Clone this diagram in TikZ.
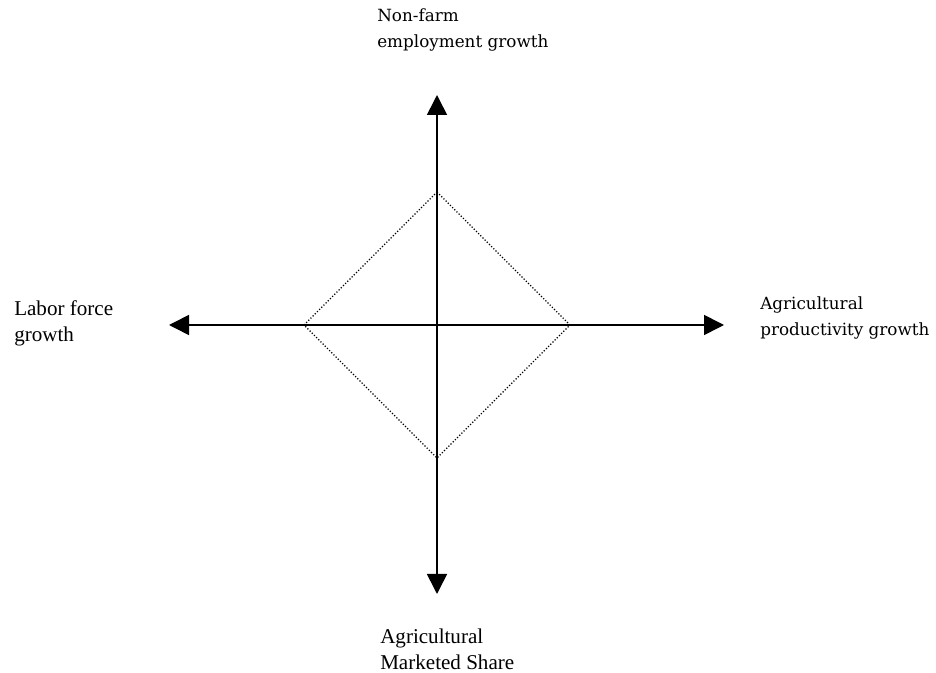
\documentclass[tikz,border=0pt]{standalone}
\usepackage{fontspec}
\setmainfont{Liberation Serif}
\newfontfamily\slabfont{DejaVu Serif}
\usetikzlibrary{arrows.meta}

\begin{document}
\begin{tikzpicture}[x=0.75pt, y=-0.75pt,
    axis/.style={-{Triangle[length=15pt,width=15pt]}, line width=1.2pt},
    diam/.style={dash pattern=on 0.9pt off 1.4pt, line width=0.9pt},
    lbl/.style={anchor=base west, align=left, inner sep=0pt},
    slab/.style={lbl, font=\slabfont\fontsize{12.6pt}{19.5pt}\selectfont},
    roman/.style={lbl, font=\fontsize{15.8pt}{19.5pt}\selectfont}]
            \useasboundingbox (0,0) rectangle (936,673);
            \coordinate (O)      at (437,325);
            \coordinate (Up)     at (437,95);
            \coordinate (Down)   at (437,594);
            \coordinate (Left)   at (169,325);
            \coordinate (Right)  at (724,325);
            \coordinate (Dtop)   at (437,192);
            \coordinate (Dright) at (570,325);
            \coordinate (Dbot)   at (437,458);
            \coordinate (Dleft)  at (304,325);
            \node (Nonfarm) [slab]  at (377,48)  {Non-farm\\employment growth};
            \node (Agprod)  [slab]  at (760,336) {Agricultural\\productivity growth};
            \node (Labor)   [roman] at (14,342)  {Labor force\\growth};
            \node (Market)  [roman] at (380,669) {Agricultural\\Marketed Share};
            \draw[diam] (Dtop) -- (Dright) -- (Dbot) -- (Dleft) -- cycle;
            \draw[axis] (O) -- (Up);
            \draw[axis] (O) -- (Down);
            \draw[axis] (O) -- (Left);
            \draw[axis] (O) -- (Right);
        \end{tikzpicture}
\end{document}
